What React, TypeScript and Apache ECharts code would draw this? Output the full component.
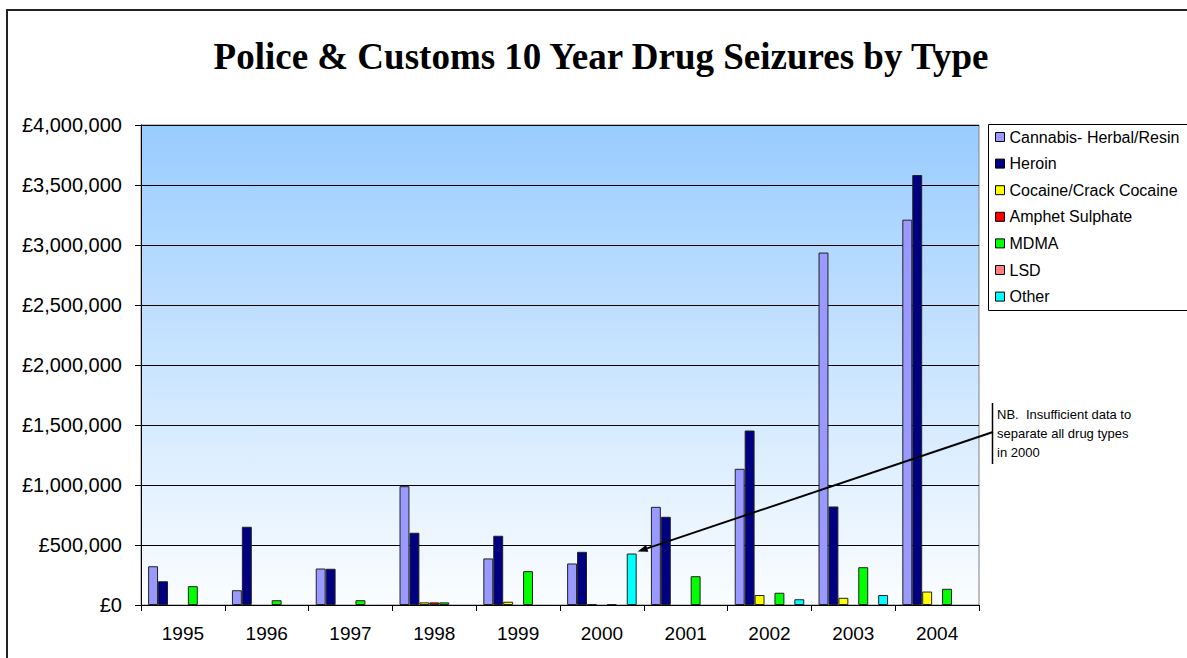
import React, { useEffect, useRef } from "react";
import * as echarts from "echarts";

// Seizure values in pounds, one entry per year
const years = ["1995", "1996", "1997", "1998", "1999", "2000", "2001", "2002", "2003", "2004"];
const cannabis = [323000, 123000, 304000, 990000, 388000, 346000, 818000, 1135000, 2937000, 3211000];
const heroin = [198000, 652000, 302000, 602000, 577000, 443000, 735000, 1454000, 821000, 3583000];
const cocaine = [null, null, null, 22000, 27000, 8000, null, 83000, 60000, 112000];
const amphet = [null, null, null, 22000, null, null, null, null, null, null];
const mdma = [157000, 40000, 40000, 22000, 282000, 8000, 240000, 102000, 315000, 135000];
const lsd = [null, null, null, null, null, null, null, null, null, null];
const other = [null, null, null, null, null, 429000, null, 48000, 83000, null];

const seriesDefs = [
  { name: "Cannabis- Herbal/Resin", data: cannabis, color: "#9999FF" },
  { name: "Heroin", data: heroin, color: "#000080" },
  { name: "Cocaine/Crack Cocaine", data: cocaine, color: "#FFFF00" },
  { name: "Amphet Sulphate", data: amphet, color: "#FF0000" },
  { name: "MDMA", data: mdma, color: "#00FF00" },
  { name: "LSD", data: lsd, color: "#FF8080" },
  { name: "Other", data: other, color: "#00FFFF" },
];

const yTicks = { min: 0, max: 4000000, interval: 500000 };
const titleText = "Police & Customs 10 Year Drug Seizures by Type";
const noteLines = ["NB.  Insufficient data to", "separate all drug types", "in 2000"];
const noteYearIndex = 5;

const GRID = { left: 141, top: 125, width: 838, height: 480 };
const CAT_GAP = 0.17;

export default function App() {
  const ref = useRef<HTMLDivElement>(null);

  useEffect(() => {
    if (!ref.current) return;
    const chart = echarts.init(ref.current, undefined, { renderer: "svg" });
    const sans = "'Liberation Sans', Arial, sans-serif";

    chart.setOption({
      animation: false,
      backgroundColor: "#ffffff",
      grid: {
        left: GRID.left,
        top: GRID.top,
        width: GRID.width,
        height: GRID.height,
        show: true,
        borderColor: "#808080",
        borderWidth: 1,
        backgroundColor: {
          type: "linear",
          x: 0,
          y: 0,
          x2: 0,
          y2: 1,
          colorStops: [
            { offset: 0, color: "#99CCFF" },
            { offset: 1, color: "#FBFDFF" },
          ],
        },
      },
      legend: {
        orient: "vertical",
        left: 995,
        top: 129,
        padding: 0,
        itemWidth: 9,
        itemHeight: 9,
        itemGap: 10.6,
        icon: "rect",
        itemStyle: { borderColor: "#000", borderWidth: 1 },
        textStyle: { fontFamily: sans, fontSize: 16, color: "#000", lineHeight: 16 },
        data: seriesDefs.map((s) => s.name),
      },
      xAxis: {
        type: "category",
        data: years,
        axisLine: { lineStyle: { color: "#000", width: 1 } },
        axisTick: { show: true, length: 6, lineStyle: { color: "#000" } },
        axisLabel: { fontFamily: sans, fontSize: 19, color: "#000", margin: 19 },
      },
      yAxis: {
        type: "value",
        min: yTicks.min,
        max: yTicks.max,
        interval: yTicks.interval,
        axisLine: { show: true, lineStyle: { color: "#000", width: 1 } },
        axisTick: { show: true, length: 6, lineStyle: { color: "#000" } },
        splitLine: { lineStyle: { color: "#000", width: 1 } },
        axisLabel: {
          fontFamily: sans,
          fontSize: 20,
          color: "#000",
          margin: 19,
          formatter: (v: number) => "£" + v.toLocaleString("en-GB"),
        },
      },
      series: seriesDefs.map((s) => ({
        type: "bar",
        name: s.name,
        data: s.data,
        barGap: "0%",
        barCategoryGap: CAT_GAP * 100 + "%",
        itemStyle: { color: s.color, borderColor: "#222", borderWidth: 1 },
      })),
    });

    // Annotation pointing at the "Other" bar for 2000
    const otherIdx = seriesDefs.findIndex((s) => s.name === "Other");
    const val = other[noteYearIndex] as number;
    const p = chart.convertToPixel({ gridIndex: 0 }, [noteYearIndex, val]) as number[];
    const band = GRID.width / years.length;
    const barW = (band * (1 - CAT_GAP)) / seriesDefs.length;
    const rightEdge = p[0] + (otherIdx - (seriesDefs.length - 1) / 2 + 0.5) * barW;
    const tip = [rightEdge + 1, p[1] - 2];
    const start = [993, 432];
    const ang = Math.atan2(start[1] - tip[1], start[0] - tip[0]);
    const L = 10;
    const Wd = 3.5;
    const bx = tip[0] + Math.cos(ang) * L;
    const by = tip[1] + Math.sin(ang) * L;
    const px = -Math.sin(ang) * Wd;
    const py = Math.cos(ang) * Wd;

    chart.setOption({
      graphic: [
        {
          type: "text",
          x: 601,
          y: 56,
          style: {
            text: titleText,
            fontFamily: "'Liberation Serif', 'Times New Roman', serif",
            fontWeight: "bold",
            fontSize: 37,
            fill: "#000",
            textAlign: "center",
            textVerticalAlign: "middle",
          },
        },
        {
          type: "rect",
          shape: { x: 7, y: 10, width: 1300, height: 800 },
          style: { fill: "none", stroke: "#222", lineWidth: 2 },
        },
        {
          type: "rect",
          shape: { x: 988.5, y: 124.5, width: 260, height: 186 },
          style: { fill: "none", stroke: "#000", lineWidth: 1 },
        },
        {
          type: "line",
          shape: { x1: 992.5, y1: 403, x2: 992.5, y2: 464 },
          style: { stroke: "#000", lineWidth: 1.5 },
          z: 100,
        },
        {
          type: "text",
          x: 997,
          y: 404.5,
          style: {
            text: noteLines.join("\n"),
            fontFamily: sans,
            fontSize: 13,
            lineHeight: 19,
            fill: "#000",
            textVerticalAlign: "top",
          },
          z: 100,
        },
        {
          type: "line",
          shape: { x1: start[0], y1: start[1], x2: bx, y2: by },
          style: { stroke: "#000", lineWidth: 2 },
          z: 100,
        },
        {
          type: "polygon",
          shape: {
            points: [
              [tip[0], tip[1]],
              [bx + px, by + py],
              [bx - px, by - py],
            ],
          },
          style: { fill: "#000" },
          z: 100,
        },
      ],
    });

    return () => chart.dispose();
  }, []);

  return (
    <div
      ref={ref}
      style={{ position: "fixed", left: 0, top: 0, width: 1187, height: 658 }}
    />
  );
}
